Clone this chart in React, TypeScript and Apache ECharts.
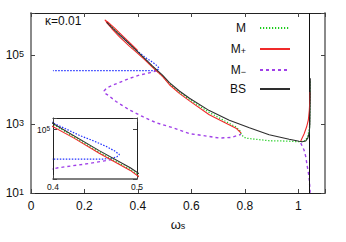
import React, { useEffect, useRef } from 'react';
import * as echarts from 'echarts';

const FONT = '"Liberation Sans", Arial, Helvetica, sans-serif';

// axis ranges (omega linear, mass in decades)
const xRange = [0, 1.1];
const xStep = 0.2;
const yExpRange = [1, 6.22];
const yExpStep = 2;
const insetXRange = [0.4, 0.5];
const insetXStep = 0.1;
const insetYExpRange = [4.25, 5.175];
const insetYExpStep = 0.75;
const omegaMax = 1.045;
const kappaLabel = 'κ=0.01';

// series values: [omega, mass]
const bsCurve: [number, number][] = [
  [0.283, 8.9e5], [0.332, 3.8e5], [0.395, 1.35e5], [0.455, 4.79e4], [0.492, 2.63e4],
  [0.518, 1.58e4], [0.555, 9.1e3], [0.593, 5.6e3], [0.667, 2.45e3], [0.742, 1.29e3],
  [0.817, 776], [0.891, 490], [0.966, 363], [1.003, 316], [1.015, 307], [1.028, 324],
  [1.036, 398], [1.041, 562], [1.0435, 1000], [1.0445, 3.98e3], [1.045, 2.14e4],
];

const mCurve: [number, number][] = [
  [0.287, 8.5e5], [0.332, 3.98e5], [0.395, 1.32e5], [0.455, 4.52e4], [0.492, 2.48e4],
  [0.518, 1.48e4], [0.555, 8.3e3], [0.593, 5.13e3], [0.667, 2.16e3], [0.73, 1.17e3],
  [0.767, 822], [0.782, 631], [0.787, 501], [0.795, 427], [0.804, 389], [0.842, 361],
  [0.891, 328], [0.953, 321], [1.003, 307], [1.022, 316], [1.035, 417], [1.042, 759],
  [1.0444, 3.55e3], [1.045, 1.9e4],
];

const mPlusUpper: [number, number][] = [
  [0.398, 1.38e5], [0.3505, 3.16e5], [0.313, 6.03e5], [0.287, 9.12e5], [0.276, 1.05e6],
  [0.274, 1.07e6], [0.279, 1.0e6], [0.2834, 8.7e5], [0.302, 5.89e5], [0.332, 3.31e5],
  [0.369, 1.78e5], [0.395, 1.2e5], [0.425, 7.41e4], [0.455, 4.37e4], [0.492, 2.4e4],
  [0.518, 1.38e4], [0.555, 7.76e3], [0.593, 4.68e3], [0.667, 1.86e3], [0.73, 1.05e3],
  [0.767, 759], [0.786, 550],
];

const mPlusRight: [number, number][] = [
  [1.0093, 321], [1.0216, 513], [1.031, 818], [1.0377, 1.31e3], [1.0414, 2.55e3],
  [1.0433, 4.97e3], [1.044, 8.5e3],
];

const mMinusLeft: [number, number][] = [
  [0.47, 3.5e4], [0.444, 3.07e4], [0.406, 2.63e4], [0.369, 2.11e4], [0.332, 1.62e4],
  [0.307, 1.35e4], [0.283, 1.1e4], [0.2733, 9.1e3], [0.276, 7.9e3], [0.288, 6.9e3],
  [0.3195, 4.43e3], [0.369, 2.55e3], [0.4187, 1.63e3], [0.4687, 1.09e3], [0.5306, 782],
  [0.593, 525], [0.63, 479], [0.705, 393], [0.749, 407], [0.786, 501],
];

const mMinusRight: [number, number][] = [
  [1.0093, 281], [1.0216, 176], [1.028, 113], [1.0339, 57.8], [1.0403, 29.6],
  [1.044, 12.2], [1.0451, 3.2],
];

const blueCurve: [number, number][] = [
  [0.33, 4.17e5], [0.37, 2.19e5], [0.4, 1.26e5], [0.412, 1.07e5], [0.432, 8.1e4],
  [0.448, 6.76e4], [0.464, 5.5e4], [0.474, 4.68e4], [0.479, 4.17e4], [0.476, 3.85e4],
  [0.47, 3.67e4], [0.46, 3.57e4], [0.45, 3.55e4], [0.082, 3.55e4],
];

const legendNames = ['M', 'M+', 'M−', 'BS'];
const legendRich: Record<string, string> = {
  M: '{n|M}',
  'M+': '{n|M}{sb|+}',
  'M−': '{n|M}{sb|−}',
  BS: '{n|BS}',
};

const COLORS = {
  M: '#1ccc1c',
  Mp: '#f02a2a',
  Mm: '#a040e8',
  BS: '#2e2e2e',
  blue: '#2030ff',
};

const toLog = (pts: [number, number][]) => pts.map(([w, m]) => [w, Math.log10(m)]);

function lineSeries(
  name: string, pts: [number, number][], color: string, type: any, width: number,
  axis: number, z: number,
) {
  return {
    type: 'line', name, data: toLog(pts), xAxisIndex: axis, yAxisIndex: axis,
    symbol: 'none', showSymbol: false, smooth: false, clip: true, silent: true, z,
    lineStyle: { color, width, type }, itemStyle: { color },
  };
}

function allSeries(axis: number, suffix: string) {
  return [
    lineSeries('blue' + suffix, blueCurve, COLORS.blue, [1.5, 1.5], 1.2, axis, 2),
    lineSeries('M−' + suffix, mMinusLeft, COLORS.Mm, [3, 3], 1.4, axis, 3),
    lineSeries('M−' + suffix, mMinusRight, COLORS.Mm, [3, 3], 1.4, axis, 3),
    lineSeries('M' + suffix, mCurve, COLORS.M, [1.2, 1.8], 1.3, axis, 4),
    lineSeries('M+' + suffix, mPlusUpper, COLORS.Mp, 'solid', 1.1, axis, 5),
    lineSeries('M+' + suffix, mPlusRight, COLORS.Mp, 'solid', 1.1, axis, 5),
    lineSeries('BS' + suffix, bsCurve, COLORS.BS, 'solid', 1.1, axis, 6),
  ];
}

const isInt = (v: number) => Math.abs(v - Math.round(v)) < 1e-6;

function xAxisDef(grid: number, pos: 'bottom' | 'top', range: number[], step: number, labels: any, lineColor: string, lineWidth: number, extra: any = {}) {
  return {
    type: 'value', gridIndex: grid, position: pos, min: range[0], max: range[1], interval: step,
    axisLine: { show: true, onZero: false, lineStyle: { color: lineColor, width: lineWidth } },
    axisTick: { show: true, inside: true, length: 4, lineStyle: { color: '#444', width: 1 } },
    splitLine: { show: false },
    axisLabel: labels,
    ...extra,
  };
}

function yAxisDef(grid: number, pos: 'left' | 'right', range: number[], step: number, labels: any, lineColor: string, lineWidth: number) {
  return {
    type: 'value', gridIndex: grid, position: pos, min: range[0], max: range[1], interval: step,
    axisLine: { show: true, onZero: false, lineStyle: { color: lineColor, width: lineWidth } },
    axisTick: { show: true, inside: true, length: 4, lineStyle: { color: '#444', width: 1 } },
    splitLine: { show: false },
    axisLabel: labels,
  };
}

const mainYLabel = {
  show: true, margin: 7, color: '#111', fontFamily: FONT,
  formatter: (v: number) => (isInt(v) ? `{b|10}{s|${Math.round(v)}}` : ''),
  rich: {
    b: { fontSize: 12, lineHeight: 12, verticalAlign: 'bottom', fontFamily: FONT, color: '#111' },
    s: { fontSize: 9, lineHeight: 9, padding: [0, 0, 6, 0], verticalAlign: 'top', fontFamily: FONT, color: '#111' },
  },
};

const insetYLabel = {
  show: true, margin: 3, color: '#111', fontFamily: FONT,
  formatter: (v: number) => (Math.abs(v - 5) < 1e-6 ? '{b|10}{s|5}' : ''),
  rich: {
    b: { fontSize: 8.5, lineHeight: 9, verticalAlign: 'bottom', fontFamily: FONT, color: '#111' },
    s: { fontSize: 6.5, lineHeight: 7, padding: [0, 0, 4, 0], verticalAlign: 'top', fontFamily: FONT, color: '#111' },
  },
};

const option: any = {
  animation: false,
  backgroundColor: '#fff',
  title: {
    text: kappaLabel, left: 45, top: 15, padding: 0,
    textStyle: { fontSize: 12, fontWeight: 'normal', color: '#111', fontFamily: FONT },
  },
  legend: {
    data: legendNames, orient: 'vertical', right: 55, top: 22, padding: 0,
    itemWidth: 30, itemHeight: 10, itemGap: 7, align: 'right',
    itemStyle: { opacity: 0 },
    formatter: (name: string) => legendRich[name] || name,
    textStyle: {
      fontSize: 12, color: '#111', fontFamily: FONT, padding: [0, 9, 0, 0],
      rich: {
        n: { fontSize: 12, lineHeight: 12, verticalAlign: 'top', fontFamily: FONT, color: '#111' },
        sb: { fontSize: 9, lineHeight: 9, padding: [5, 0, 0, 0], verticalAlign: 'bottom', fontFamily: FONT, color: '#111' },
      },
    },
  },
  grid: [
    { left: 31, top: 13, width: 294, height: 180, containLabel: false },
    { left: 53, top: 118, width: 84, height: 61, containLabel: false, show: true, backgroundColor: '#fff', borderWidth: 0 },
  ],
  xAxis: [
    xAxisDef(0, 'bottom', xRange, xStep, {
      show: true, margin: 7, fontSize: 12, color: '#111', fontFamily: FONT,
      formatter: (v: number) => (v > 1.05 ? '' : String(Math.round(v * 10) / 10)),
    }, '#222', 1, {
      name: '{w|ω}{s|s}', nameLocation: 'middle', nameGap: 21,
      nameTextStyle: {
        rich: {
          w: { fontSize: 13, lineHeight: 13, verticalAlign: 'top', fontFamily: FONT, color: '#111' },
          s: { fontSize: 9, lineHeight: 9, padding: [5, 0, 0, 0], verticalAlign: 'bottom', fontFamily: FONT, color: '#111' },
        },
      },
    }),
    xAxisDef(0, 'top', xRange, xStep, { show: false }, '#222', 1),
    xAxisDef(1, 'bottom', insetXRange, insetXStep, {
      show: true, margin: 3, fontSize: 8.5, color: '#111', fontFamily: FONT,
      formatter: (v: number) => String(Math.round(v * 10) / 10),
    }, '#555', 1.5),
    xAxisDef(1, 'top', insetXRange, insetXStep, { show: false }, '#222', 1),
  ],
  yAxis: [
    yAxisDef(0, 'left', yExpRange, yExpStep, mainYLabel, '#8a8a8a', 2),
    yAxisDef(0, 'right', yExpRange, yExpStep, { show: false }, '#8a8a8a', 2),
    yAxisDef(1, 'left', insetYExpRange, insetYExpStep, insetYLabel, '#222', 1),
    yAxisDef(1, 'right', insetYExpRange, insetYExpStep, { show: false }, '#222', 1),
  ],
  series: [
    ...allSeries(0, ''),
    {
      type: 'line', name: 'limit', data: [], xAxisIndex: 0, yAxisIndex: 0, silent: true,
      markLine: {
        symbol: 'none', silent: true, label: { show: false },
        lineStyle: { color: '#111', width: 1, type: 'solid' },
        data: [{ xAxis: omegaMax }],
      },
    },
    ...allSeries(2, ' inset'),
  ],
};

export default function App() {
  const ref = useRef<HTMLDivElement>(null);
  useEffect(() => {
    const chart = echarts.init(ref.current!, null, { renderer: 'svg' });
    chart.setOption(option);
    return () => chart.dispose();
  }, []);
  return <div ref={ref} style={{ position: 'fixed', left: 0, top: 0, width: 346, height: 242 }} />;
}
